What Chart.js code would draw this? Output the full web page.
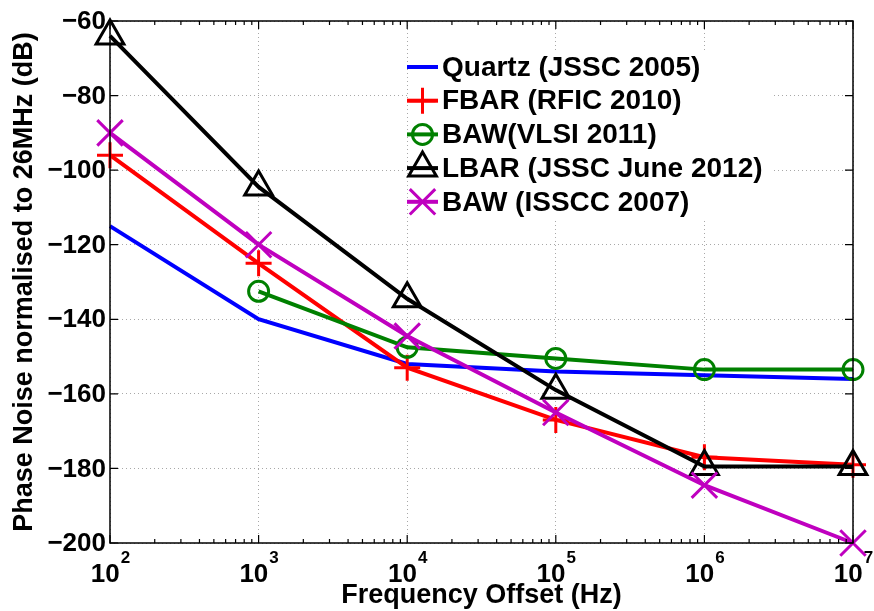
<!DOCTYPE html>
<html>
<head>
<meta charset="utf-8">
<title>Phase noise vs. offset</title>
<script src="https://cdn.jsdelivr.net/npm/chart.js@4/dist/chart.umd.min.js"></script>
<style>
  html, body { margin: 0; padding: 0; background: #fff; }
  #wrap { width: 874px; height: 611px; }
</style>
</head>
<body>
<div id="wrap"><canvas id="pnChart" width="874" height="611"></canvas></div>
<script>
// offset frequencies (Hz) and phase noise normalised to 26 MHz (dB)
const offsets  = [1e2, 1e3, 1e4, 1e5, 1e6, 1e7];
const quartz   = [-115, -140, -152, -154, -155, -156];
const fbar     = [-96, -125, -153, -167, -177, -179];
const bawVlsi  = [null, -132.5, -147.5, -150.5, -153.5, -153.5];
const lbar     = [-64, -104.5, -134.5, -159, -179.5, -179.5];
const bawIsscc = [-90, -120, -144.5, -165, -184.5, -200];

const seriesNames = ['Quartz (JSSC 2005)', 'FBAR (RFIC 2010)', 'BAW(VLSI 2011)', 'LBAR (JSSC June 2012)', 'BAW (ISSCC 2007)'];

// axis ticks: decade exponents on x, dB on y
const xDecades = [2, 3, 4, 5, 6, 7];
const yTicks = [-200, -180, -160, -140, -120, -100, -80, -60];

const FONT = '"Liberation Sans", Arial, Helvetica, sans-serif';

function pts(arr) {
    return offsets.map((f, i) => ({ x: f, y: arr[i] })).filter(p => p.y !== null);
}

function series(i, arr, color, style, radius) {
    return {
        label: seriesNames[i],
        data: pts(arr),
        borderColor: color,
        backgroundColor: 'rgba(0,0,0,0)',
        borderWidth: 4,
        pointStyle: style,
        pointRadius: radius,
        pointBorderWidth: 3,
        pointBorderColor: color,
        pointBackgroundColor: 'rgba(0,0,0,0)',
        tension: 0,
        clip: false,
        order: 5 - i
    };
}

// frame, inward ticks, tick labels, axis titles and the legend
const axesFrame = {
    id: 'axesFrame',
    afterDraw(chart) {
        const { ctx, chartArea: a, scales: { x, y } } = chart;
        ctx.save();
        ctx.strokeStyle = '#000';
        ctx.lineWidth = 1.5;
        ctx.strokeRect(a.left, a.top, a.right - a.left, a.bottom - a.top);

        ctx.lineWidth = 1.2;
        ctx.beginPath();
        for (let e = xDecades[0]; e <= xDecades[xDecades.length - 1]; e++) {
            for (let m = 1; m < 10; m++) {
                const v = m * Math.pow(10, e);
                if (v > x.max) break;
                const px = x.getPixelForValue(v);
                const len = m === 1 ? 8 : 4;
                ctx.moveTo(px, a.bottom); ctx.lineTo(px, a.bottom - len);
                ctx.moveTo(px, a.top); ctx.lineTo(px, a.top + len);
            }
        }
        y.ticks.forEach(t => {
            const py = y.getPixelForValue(t.value);
            ctx.moveTo(a.left, py); ctx.lineTo(a.left + 8, py);
            ctx.moveTo(a.right, py); ctx.lineTo(a.right - 8, py);
        });
        ctx.stroke();

        ctx.fillStyle = '#000';
        // y tick labels
        ctx.font = `bold 26px ${FONT}`;
        ctx.textAlign = 'right';
        ctx.textBaseline = 'middle';
        y.ticks.forEach(t => {
            const py = y.getPixelForValue(t.value);
            const txt = (t.value < 0 ? '\u2212' : '') + Math.abs(t.value);
            ctx.fillText(txt, a.left - 4, py + 1);
        });

        // x tick labels as 10 with a raised exponent
        ctx.textAlign = 'left';
        ctx.textBaseline = 'alphabetic';
        x.ticks.forEach(t => {
            const px = x.getPixelForValue(t.value);
            const exp = String(Math.round(Math.log10(t.value)));
            ctx.font = `bold 26px ${FONT}`;
            const wb = ctx.measureText('10').width;
            ctx.font = `bold 17px ${FONT}`;
            const we = ctx.measureText(exp).width;
            const start = px - (wb + we) / 2;
            ctx.font = `bold 26px ${FONT}`;
            ctx.fillText('10', start, a.bottom + 39);
            ctx.font = `bold 17px ${FONT}`;
            ctx.fillText(exp, start + wb + 1, a.bottom + 20);
        });

        // axis titles
        ctx.font = `bold 27px ${FONT}`;
        ctx.textAlign = 'center';
        ctx.fillText('Frequency Offset (Hz)', (a.left + a.right) / 2, a.bottom + 60);
        ctx.save();
        ctx.translate(25, (a.top + a.bottom) / 2);
        ctx.rotate(-Math.PI / 2);
        ctx.textBaseline = 'middle';
        ctx.fillText('Phase Noise normalised to 26MHz (dB)', 0, 0);
        ctx.restore();

        // legend inside the axes, top right
        const lx = 408, ly = 52, rowH = 33.7;
        ctx.fillStyle = '#fff';
        ctx.fillRect(lx, ly, 364, 166);
        chart.data.datasets.forEach((ds, i) => {
            const cy = ly + 15 + i * rowH;
            ctx.strokeStyle = ds.borderColor;
            ctx.lineWidth = ds.borderWidth;
            ctx.beginPath();
            ctx.moveTo(lx - 1, cy);
            ctx.lineTo(lx + 30, cy);
            ctx.stroke();
            if (ds.pointRadius > 0) {
                ctx.lineWidth = ds.pointBorderWidth;
                ctx.fillStyle = 'rgba(0,0,0,0)';
                Chart.helpers.drawPoint(ctx, {
                    pointStyle: ds.pointStyle,
                    radius: ds.pointRadius,
                    borderWidth: ds.pointBorderWidth,
                    rotation: 0
                }, lx + 14.5, cy);
            }
            ctx.fillStyle = '#000';
            ctx.font = `bold 28px ${FONT}`;
            ctx.textAlign = 'left';
            ctx.textBaseline = 'middle';
            ctx.fillText(ds.label, lx + 34, cy + 1);
        });
        ctx.restore();
    }
};

const gridOpts = { color: '#a8a8a8', lineWidth: 1, drawTicks: false };

const pnChart = new Chart(document.getElementById('pnChart'), {
    type: 'line',
    data: {
        datasets: [
            series(0, quartz, '#0000ff', false, 0),
            series(1, fbar, '#ff0000', 'cross', 13),
            series(2, bawVlsi, '#008000', 'circle', 10),
            series(3, lbar, '#000000', 'triangle', 16),
            series(4, bawIsscc, '#bf00bf', 'crossRot', 18)
        ]
    },
    options: {
        responsive: false,
        animation: false,
        devicePixelRatio: 1,
        layout: { padding: { left: 110, top: 20, right: 18, bottom: 68 } },
        plugins: { legend: { display: false }, tooltip: { enabled: false } },
        scales: {
            x: {
                type: 'logarithmic',
                min: 100,
                max: 1e7,
                afterBuildTicks: s => { s.ticks = xDecades.map(e => ({ value: Math.pow(10, e) })); },
                ticks: { display: false },
                grid: gridOpts,
                border: { display: false, dash: [1, 3] }
            },
            y: {
                type: 'linear',
                min: -200,
                max: -60,
                afterBuildTicks: s => { s.ticks = yTicks.map(v => ({ value: v })); },
                ticks: { display: false },
                grid: gridOpts,
                border: { display: false, dash: [1, 3] }
            }
        }
    },
    plugins: [axesFrame]
});
</script>
</body>
</html>
